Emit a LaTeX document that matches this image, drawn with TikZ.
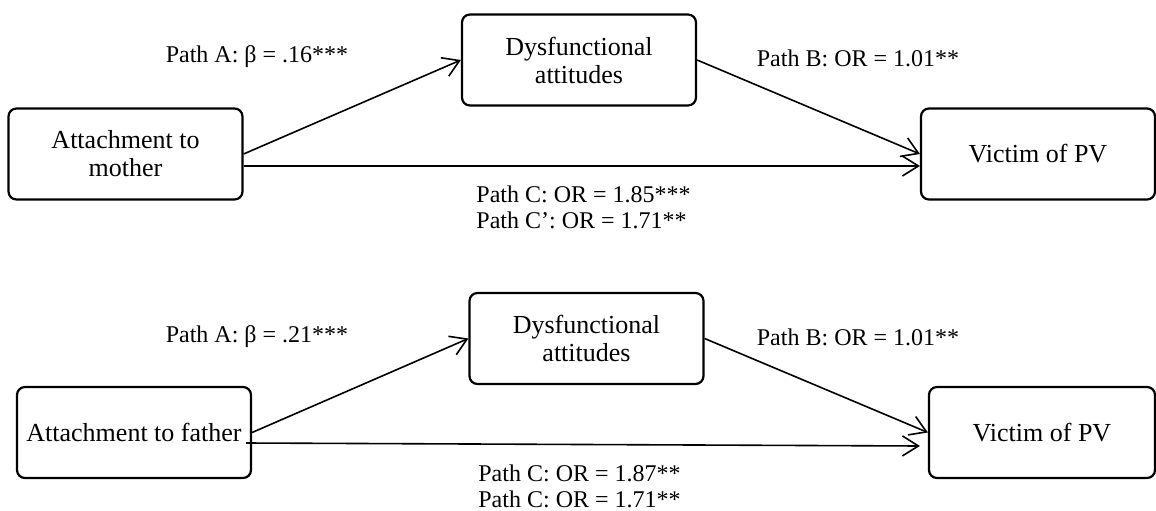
\documentclass[tikz,border=0pt]{standalone}
\usepackage{fontspec}
\setmainfont{Liberation Serif}
\usetikzlibrary{arrows.meta}

\tikzset{
  varbox/.style={draw,line width=1.1pt,rounded corners=4pt,minimum width=117pt,
    minimum height=45.5pt,align=center,font=\fontsize{13}{14}\selectfont},
  pathlabel/.style={inner sep=0pt,align=left,font=\fontsize{12}{13}\selectfont},
  effect/.style={-{Straight Barb[length=8pt,width=10pt]},line width=0.8pt}
}

\begin{document}
\begin{tikzpicture}[x=0.5pt,y=0.5pt]
	\useasboundingbox (0,0) rectangle (1156,510);
	% mother model
	\node[varbox] (mother) at (125.5,356) {Attachment to\\mother};
	\node[varbox] (dysA) at (579,450) {Dysfunctional\\attitudes};
	\node[varbox] (victimA) at (1038,356) {Victim of PV};
	\draw[effect] (mother.east) -- (dysA.west);
	\draw[effect] (dysA.east) -- (victimA.west);
	\draw[effect] ([yshift=-6pt]mother.east) -- ([yshift=-6pt]victimA.west);
	\node[pathlabel] (labA1) at (257,453) {Path A: β = .16***};
	\node[pathlabel] (labB1) at (858,452) {Path B: OR = 1.01**};
	\node[pathlabel,anchor=west] (labC1) at (476,303) {Path C: OR = 1.85***\\Path C’: OR = 1.71**};
	% father model
	\node[varbox] (father) at (134,77.5) {Attachment to father};
	\node[varbox] (dysB) at (586.5,171.5) {Dysfunctional\\attitudes};
	\node[varbox,minimum width=113pt] (victimB) at (1042,77.5) {Victim of PV};
	\draw[effect] (father.east) -- (dysB.west);
	\draw[effect] (dysB.east) -- (victimB.west);
	\draw[effect] ([xshift=-3pt,yshift=-5.25pt]father.east) -- ([xshift=-4pt,yshift=-6.75pt]victimB.west);
	\node[pathlabel] (labA2) at (257,173) {Path A: β = .21***};
	\node[pathlabel] (labB2) at (858,173) {Path B: OR = 1.01**};
	\node[pathlabel,anchor=west] (labC2) at (478,23.5) {Path C: OR = 1.87**\\Path C: OR = 1.71**};
\end{tikzpicture}
\end{document}
